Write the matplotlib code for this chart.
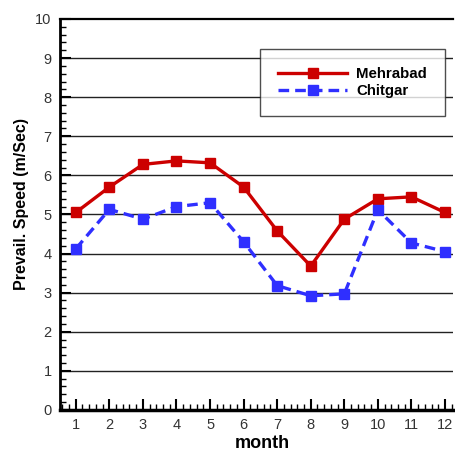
import numpy as np
import matplotlib.pyplot as plt
from matplotlib.ticker import MultipleLocator

plt.rcParams['font.family'] = ['Liberation Sans', 'DejaVu Sans']

months = [1, 2, 3, 4, 5, 6, 7, 8, 9, 10, 11, 12]
mehrabad = [5.05, 5.7, 6.28, 6.37, 6.32, 5.7, 4.58, 3.68, 4.88, 5.4, 5.45, 5.05]
chitgar = [4.12, 5.13, 4.88, 5.2, 5.3, 4.3, 3.18, 2.92, 2.97, 5.12, 4.27, 4.05]

fig = plt.figure(figsize=(4.56, 4.51), dpi=100)
ax = fig.add_axes([0.1316, 0.091, 0.862, 0.867])

for y in range(1, 10):
    ax.axhline(y, color='#222222', lw=1.0, zorder=1)

ax.plot(months, mehrabad, color='#cc0000', lw=2.4, marker='s', ms=7,
        label='Mehrabad', zorder=3)
ax.plot(months, chitgar, color='#2f2fff', lw=2.4, ls=(0, (3.2, 1.8)), marker='s',
        ms=7, label='Chitgar', zorder=3)

ax.set_xlim(0.53, 12.24)
ax.set_ylim(0, 10)
ax.xaxis.set_major_locator(MultipleLocator(1))
ax.xaxis.set_minor_locator(MultipleLocator(0.2))
ax.yaxis.set_major_locator(MultipleLocator(1))
ax.yaxis.set_minor_locator(MultipleLocator(0.2))
ax.tick_params(which='major', direction='in', length=8, width=1.5, labelsize=10.5,
               colors='black', labelcolor='#333333')
ax.tick_params(which='minor', direction='in', length=4, width=1)
ax.tick_params(axis='x', which='major', pad=6)
ax.tick_params(axis='y', which='major', pad=6)

ax.spines['right'].set_visible(False)
ax.spines['bottom'].set_linewidth(2.5)
ax.spines['left'].set_linewidth(2.0)
ax.spines['top'].set_linewidth(1.6)

ax.set_xlabel('month', fontsize=13, fontweight='bold')
ax.xaxis.set_label_coords(0.515, -0.064)
ax.set_ylabel('Prevail. Speed (m/Sec)', fontsize=11.5, fontweight='bold')
ax.yaxis.set_label_coords(-0.078, 0.527)

leg = ax.legend(loc='upper right', bbox_to_anchor=(0.980, 0.923),
                prop={'weight': 'bold', 'size': 10.8}, frameon=True, fancybox=False,
                edgecolor='#222222', handlelength=4.6, handletextpad=0.6,
                borderpad=1.2, labelspacing=0.2, borderaxespad=0)
leg.get_frame().set_linewidth(1.0)

fig.savefig('out.png', dpi=100)
